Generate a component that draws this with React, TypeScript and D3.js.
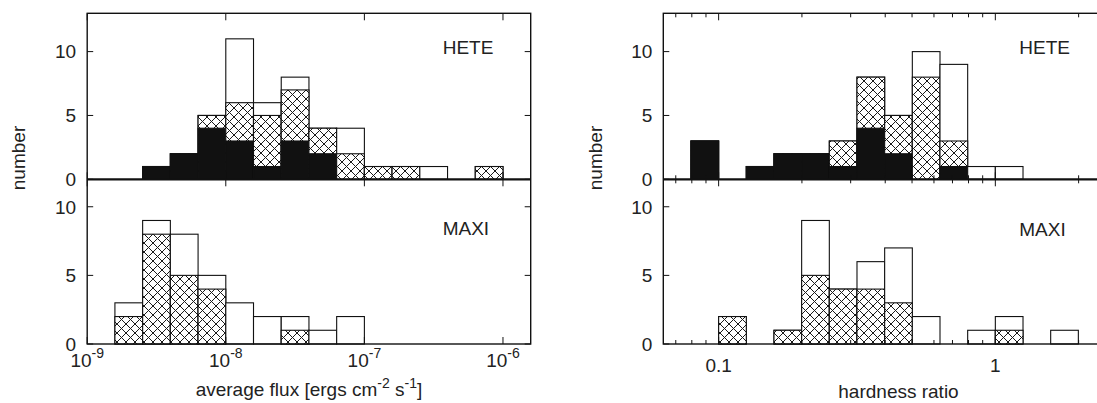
import React from "react";
import * as d3 from "d3";

// Flux histogram: lower bin edges in log10(flux), bin width 0.2 dex
const fluxBinLo = [-8.8, -8.6, -8.4, -8.2, -8.0, -7.8, -7.6, -7.4, -7.2, -7.0, -6.8, -6.6, -6.4, -6.2];
const fluxBinWidth = 0.2;

// HETE flux counts, per component (stacked: solid, cross-hatched, open)
const heteFluxSolid = [0, 1, 2, 4, 3, 1, 3, 2, 0, 0, 0, 0, 0, 0];
const heteFluxHatched = [0, 0, 0, 1, 3, 4, 4, 2, 2, 1, 1, 0, 0, 1];
const heteFluxOpen = [0, 0, 0, 0, 5, 1, 1, 0, 2, 0, 0, 1, 0, 0];

// MAXI flux counts
const maxiFluxSolid = [0, 0, 0, 0, 0, 0, 0, 0, 0, 0, 0, 0, 0, 0];
const maxiFluxHatched = [2, 8, 5, 4, 0, 0, 1, 0, 0, 0, 0, 0, 0, 0];
const maxiFluxOpen = [1, 1, 3, 1, 3, 2, 1, 1, 2, 0, 0, 0, 0, 0];

// Hardness-ratio histogram: lower bin edges in log10(ratio), bin width 0.1 dex
const hrBinLo = [-1.1, -1.0, -0.9, -0.8, -0.7, -0.6, -0.5, -0.4, -0.3, -0.2, -0.1, 0.0, 0.1, 0.2];
const hrBinWidth = 0.1;

const heteHrSolid = [3, 0, 1, 2, 2, 1, 4, 2, 0, 1, 0, 0, 0, 0];
const heteHrHatched = [0, 0, 0, 0, 0, 2, 4, 3, 8, 2, 0, 0, 0, 0];
const heteHrOpen = [0, 0, 0, 0, 0, 0, 0, 0, 2, 6, 1, 1, 0, 0];

const maxiHrSolid = [0, 0, 0, 0, 0, 0, 0, 0, 0, 0, 0, 0, 0, 0];
const maxiHrHatched = [0, 2, 0, 1, 5, 4, 4, 3, 0, 0, 0, 1, 0, 0];
const maxiHrOpen = [0, 0, 0, 0, 4, 0, 2, 4, 2, 0, 1, 1, 0, 1];

// Axis ticks
const yTicks = [0, 5, 10];
const fluxMajorExp = [-9, -8, -7, -6];
const hrMajor = [0.1, 1];
const hrMajorLabels = ["0.1", "1"];
const hrMinor = [0.07, 0.08, 0.09, 0.2, 0.3, 0.4, 0.5, 0.6, 0.7, 0.8, 0.9, 2, 3];

const W = 1097;
const H = 403;
const FONT = "'Liberation Sans', Arial, Helvetica, sans-serif";
const TEXT = "#222";
const FS = 19;
const FS_SUP = 14;

// Shared vertical layout
const yTopPanel = 13.3;
const yMid = 179.3;
const yBottom = 344;
const yTop = d3.scaleLinear().domain([0, 13]).range([yMid, yTopPanel]);
const yBot = d3.scaleLinear().domain([0, 12]).range([yBottom, yMid]);

const xFlux = d3.scaleLog().domain([1e-9, Math.pow(10, -5.8)]).range([87.2, 530.7]);
const xHr = d3.scaleLog().domain([Math.pow(10, -1.2), Math.pow(10, 0.5)]).range([663.3, 663.3 + 1.7 * 276.7]);

type Scale = d3.ScaleLogarithmic<number, number>;

function Histogram({
  x, y, lo, width, solid, hatched, open,
}: {
  x: Scale; y: d3.ScaleLinear<number, number>; lo: number[]; width: number;
  solid: number[]; hatched: number[]; open: number[];
}) {
  return (
    <g>
      {lo.map((l, i) => {
        const x0 = x(Math.pow(10, l));
        const x1 = x(Math.pow(10, l + width));
        const s = solid[i];
        const h = s + hatched[i];
        const t = h + open[i];
        return (
          <g key={i}>
            {t > 0 && (
              <rect x={x0} y={y(t)} width={x1 - x0} height={y(0) - y(t)}
                fill="#fff" stroke="#111" strokeWidth={1.1} />
            )}
            {h > 0 && (
              <rect x={x0} y={y(h)} width={x1 - x0} height={y(0) - y(h)}
                fill="url(#xhatch)" stroke="#111" strokeWidth={1.1} />
            )}
            {s > 0 && (
              <rect x={x0} y={y(s)} width={x1 - x0} height={y(0) - y(s)}
                fill="#111" stroke="#111" strokeWidth={1.1} />
            )}
          </g>
        );
      })}
    </g>
  );
}

function Frame({
  x, y, left, right, major, minor, label, labelX, labelY, rightTicks,
}: {
  x: Scale; y: d3.ScaleLinear<number, number>; left: number; right: number;
  major: number[]; minor: number[]; label: string; labelX: number; labelY: number;
  rightTicks: boolean;
}) {
  const [y0, y1] = y.range();
  const majorLen = 7;
  const minorLen = 4;
  return (
    <g>
      {major.map((v, i) => {
        const px = x(v);
        return (
          <g key={"M" + i}>
            <line x1={px} x2={px} y1={y1} y2={y1 + majorLen} stroke="#111" strokeWidth={1} />
            <line x1={px} x2={px} y1={y0} y2={y0 - majorLen} stroke="#111" strokeWidth={1} />
          </g>
        );
      })}
      {minor.map((v, i) => {
        const px = x(v);
        return (
          <g key={"m" + i}>
            <line x1={px} x2={px} y1={y1} y2={y1 + minorLen} stroke="#111" strokeWidth={1} />
            <line x1={px} x2={px} y1={y0} y2={y0 - minorLen} stroke="#111" strokeWidth={1} />
          </g>
        );
      })}
      {yTicks.map((v) => (
        <g key={"y" + v}>
          <line x1={left} x2={left + 6} y1={y(v)} y2={y(v)} stroke="#111" strokeWidth={1} />
          {rightTicks && (
            <line x1={right} x2={right - 6} y1={y(v)} y2={y(v)} stroke="#111" strokeWidth={1} />
          )}
          <text x={left - 11} y={y(v)} dy="0.36em" textAnchor="end"
            fontFamily={FONT} fontSize={FS} fill={TEXT}>{v}</text>
        </g>
      ))}
      <text x={labelX} y={labelY} fontFamily={FONT} fontSize={FS} fill={TEXT}>{label}</text>
    </g>
  );
}

export default function App() {
  const leftL = xFlux.range()[0];
  const leftR = xFlux.range()[1];
  const rightL = xHr.range()[0];
  const rightR = xHr.range()[1];
  return (
    <svg width={W} height={H} viewBox={`0 0 ${W} ${H}`}
      style={{ position: "absolute", left: 0, top: 0, background: "#fff" }}>
      <defs>
        <pattern id="xhatch" patternUnits="userSpaceOnUse" width={9} height={9}>
          <rect width={9} height={9} fill="#fff" />
          <path d="M0,0 L9,9 M9,0 L0,9 M-1,8 L1,10 M8,-1 L10,1 M-1,1 L1,-1 M8,10 L10,8"
            stroke="#1a1a1a" strokeWidth={1} />
        </pattern>
      </defs>
      <rect width={W} height={H} fill="#fff" />

      {/* Left column: average flux */}
      <Histogram x={xFlux} y={yTop} lo={fluxBinLo} width={fluxBinWidth}
        solid={heteFluxSolid} hatched={heteFluxHatched} open={heteFluxOpen} />
      <Histogram x={xFlux} y={yBot} lo={fluxBinLo} width={fluxBinWidth}
        solid={maxiFluxSolid} hatched={maxiFluxHatched} open={maxiFluxOpen} />
      <Frame x={xFlux} y={yTop} left={leftL} right={leftR}
        major={fluxMajorExp.map((e) => Math.pow(10, e))} minor={[]}
        label="HETE" labelX={442.7} labelY={53.5} rightTicks />
      <Frame x={xFlux} y={yBot} left={leftL} right={leftR}
        major={fluxMajorExp.map((e) => Math.pow(10, e))} minor={[]}
        label="MAXI" labelX={442.7} labelY={235} rightTicks />
      <rect x={leftL} y={yTopPanel} width={leftR - leftL} height={yBottom - yTopPanel}
        fill="none" stroke="#111" strokeWidth={1.4} />
      <line x1={leftL} x2={leftR} y1={yMid} y2={yMid} stroke="#111" strokeWidth={2.2} />

      {fluxMajorExp.map((e) => (
        <text key={e} x={xFlux(Math.pow(10, e))} y={367} textAnchor="middle"
          fontFamily={FONT} fontSize={FS} fill={TEXT}>
          10<tspan dy={-9} fontSize={FS_SUP}>{e}</tspan>
        </text>
      ))}
      <text x={(leftL + leftR) / 2} y={396} textAnchor="middle" fontFamily={FONT} fontSize={FS} fill={TEXT}>
        average flux [ergs cm<tspan dy={-8} fontSize={FS_SUP}>-2</tspan>
        <tspan dy={8}> s</tspan><tspan dy={-8} fontSize={FS_SUP}>-1</tspan><tspan dy={8}>]</tspan>
      </text>
      <text transform={`translate(25,158) rotate(-90)`} textAnchor="middle"
        fontFamily={FONT} fontSize={FS} fill={TEXT}>number</text>

      {/* Right column: hardness ratio */}
      <Histogram x={xHr} y={yTop} lo={hrBinLo} width={hrBinWidth}
        solid={heteHrSolid} hatched={heteHrHatched} open={heteHrOpen} />
      <Histogram x={xHr} y={yBot} lo={hrBinLo} width={hrBinWidth}
        solid={maxiHrSolid} hatched={maxiHrHatched} open={maxiHrOpen} />
      <Frame x={xHr} y={yTop} left={rightL} right={rightR}
        major={hrMajor} minor={hrMinor}
        label="HETE" labelX={1019.3} labelY={53.5} rightTicks />
      <Frame x={xHr} y={yBot} left={rightL} right={rightR}
        major={hrMajor} minor={hrMinor}
        label="MAXI" labelX={1019.3} labelY={236} rightTicks />
      <rect x={rightL} y={yTopPanel} width={rightR - rightL} height={yBottom - yTopPanel}
        fill="none" stroke="#111" strokeWidth={1.4} />
      <line x1={rightL} x2={rightR} y1={yMid} y2={yMid} stroke="#111" strokeWidth={2.2} />

      {hrMajor.map((v, i) => (
        <text key={v} x={xHr(v)} y={372} textAnchor="middle"
          fontFamily={FONT} fontSize={FS} fill={TEXT}>{hrMajorLabels[i]}</text>
      ))}
      <text x={(rightL + rightR) / 2} y={398} textAnchor="middle" fontFamily={FONT} fontSize={FS} fill={TEXT}>
        hardness ratio
      </text>
      <text transform={`translate(602,158) rotate(-90)`} textAnchor="middle"
        fontFamily={FONT} fontSize={FS} fill={TEXT}>number</text>
    </svg>
  );
}
